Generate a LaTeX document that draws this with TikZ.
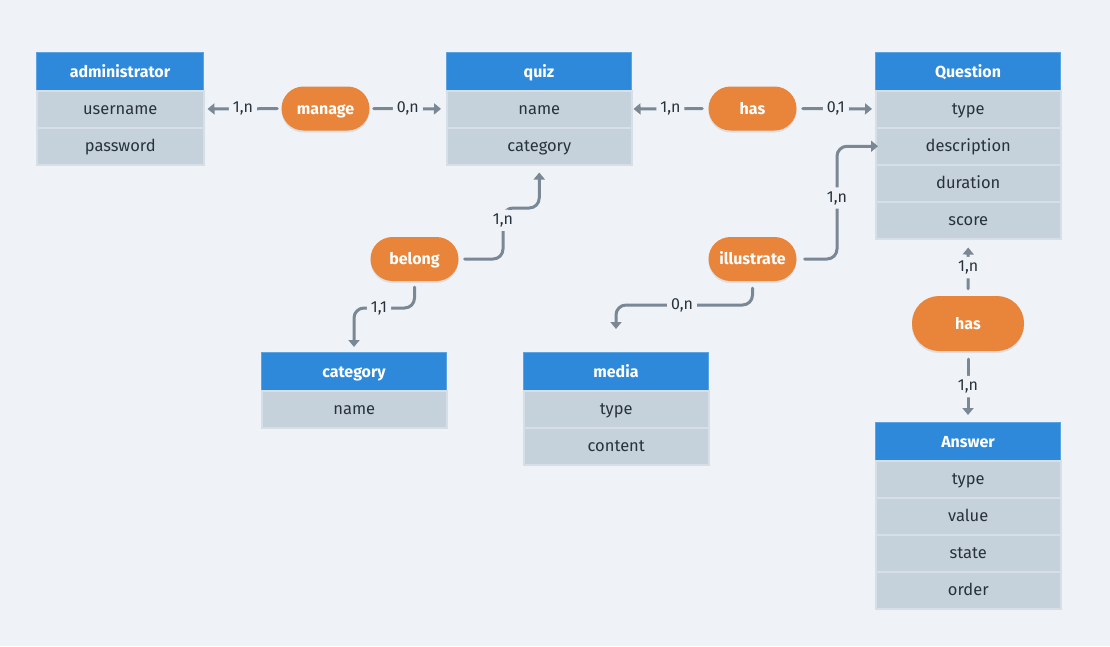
\documentclass[tikz,border=0pt]{standalone}
\usepackage{fontspec}
\setmainfont{Fira Sans}
\usetikzlibrary{arrows.meta,shadows}

\definecolor{bg}{HTML}{EFF3F7}
\definecolor{hdrblue}{HTML}{2E89DA}
\definecolor{hdredge}{HTML}{5CA3E3}
\definecolor{rowgray}{HTML}{C5D1DB}
\definecolor{rowline}{HTML}{D6DFE7}
\definecolor{pill}{HTML}{E8853A}
\definecolor{wire}{HTML}{7A8794}
\definecolor{ink}{HTML}{28323C}

\tikzset{
  txt/.style={font=\fontsize{16.5}{19}\selectfont},
  even/.style={text height=12.5pt, text depth=1.5pt},
  hdr/.style={fill=hdrblue, draw=hdredge, line width=1pt, text=white,
    font=\fontsize{16}{19}\selectfont\bfseries, minimum height=38pt,
    inner sep=0pt, anchor=north west, even},
  row/.style={fill=rowgray, draw=rowline, line width=1.5pt, text=ink, txt,
    minimum height=37pt, inner sep=0pt, anchor=north west, even},
  rel/.style={fill=pill, text=white, font=\fontsize{16}{19}\selectfont\bfseries,
    minimum width=88pt, minimum height=44pt, rounded corners=22pt, inner sep=0pt,
    even, drop shadow={opacity=0.18, shadow xshift=0pt, shadow yshift=-2pt}},
  conn/.style={draw=wire, line width=3pt, line cap=round, rounded corners=10pt,
    -{Triangle[length=7pt,width=11pt]}},
  lbl/.style={fill=bg, text=ink, font=\fontsize{16}{19}\selectfont,
    inner xsep=4pt, inner ysep=4pt}
}

% entity table: name, x, y (top left), width, title, attribute rows
\newcommand\erentity[6]{%
  \node[hdr, minimum width=#4] (#1) at (#2,#3) {#5};
  \foreach \attr [count=\i] in {#6} {
    \node[row, minimum width=#4] (#1-\i) at (#2,{#3+38+(\i-1)*37}) {\attr};
  }
}

\begin{document}
\begin{tikzpicture}[x=1pt,y=-1pt]
  \useasboundingbox (0,0) rectangle (1110,646);
  \fill[bg] (0,0) rectangle (1110,646);

  % entities
  \erentity{admin}{36}{52}{167pt}{administrator}{username,password}
  \erentity{quiz}{446}{52}{185pt}{quiz}{name,category}
  \erentity{Q}{875}{52}{185pt}{Question}{type,description,duration,score}
  \erentity{cat}{261}{352}{185pt}{category}{name}
  \erentity{media}{523}{352}{185pt}{media}{type,content}
  \erentity{ans}{875}{422}{185pt}{Answer}{type,value,state,order}

  % relationships
  \node[rel] (manage) at (325.5,108.5) {manage};
  \node[rel] (hasQ)   at (752.5,108.5) {has};
  \node[rel] (belong) at (414.5,259) {belong};
  \node[rel] (illus)  at (752.5,259) {illustrate};
  \node[rel, minimum width=112pt, minimum height=55pt, rounded corners=27pt]
    (hasA) at (968,323.5) {has};

  % bend points
  \coordinate (bq) at (503,208);
  \coordinate (bc) at (379,308);
  \coordinate (im) at (682,305);
  \coordinate (iq) at (837,198);

  % connectors
  \draw[conn, shorten <=4pt, shorten >=3pt] (manage) -- node[lbl]{1,n} (admin-1);
  \draw[conn, shorten <=4pt, shorten >=5pt] (manage) -- node[lbl]{0,n} (quiz-1);
  \draw[conn, shorten <=6pt, shorten >=1pt] (hasQ) -- node[lbl]{1,n} (quiz-1);
  \draw[conn, shorten <=6pt, shorten >=3pt] (hasQ) -- node[lbl]{0,1} (Q-1);

  \draw[conn, shorten <=6pt, shorten >=7pt]
    (belong.east) -| node[lbl, pos=0.88]{1,n} (bq) -| (quiz-2.south);
  \draw[conn, shorten <=6pt, shorten >=5pt]
    (belong.south) |- (bc) node[lbl]{1,1} -| (cat.north);

  \draw[conn, shorten <=7pt, shorten >=23pt]
    (illus.south) |- (im) node[lbl]{0,n} -| (media.north);
  \draw[conn, shorten <=8pt, shorten >=-3pt]
    (illus.east) -| (iq) node[lbl]{1,n} |- (Q-2.west);

  \draw[conn, shorten <=7pt, shorten >=8pt] (hasA) -- node[lbl]{1,n} (Q-4);
  \draw[conn, shorten <=8pt, shorten >=7pt] (hasA) -- node[lbl]{1,n} (ans);
\end{tikzpicture}
\end{document}
